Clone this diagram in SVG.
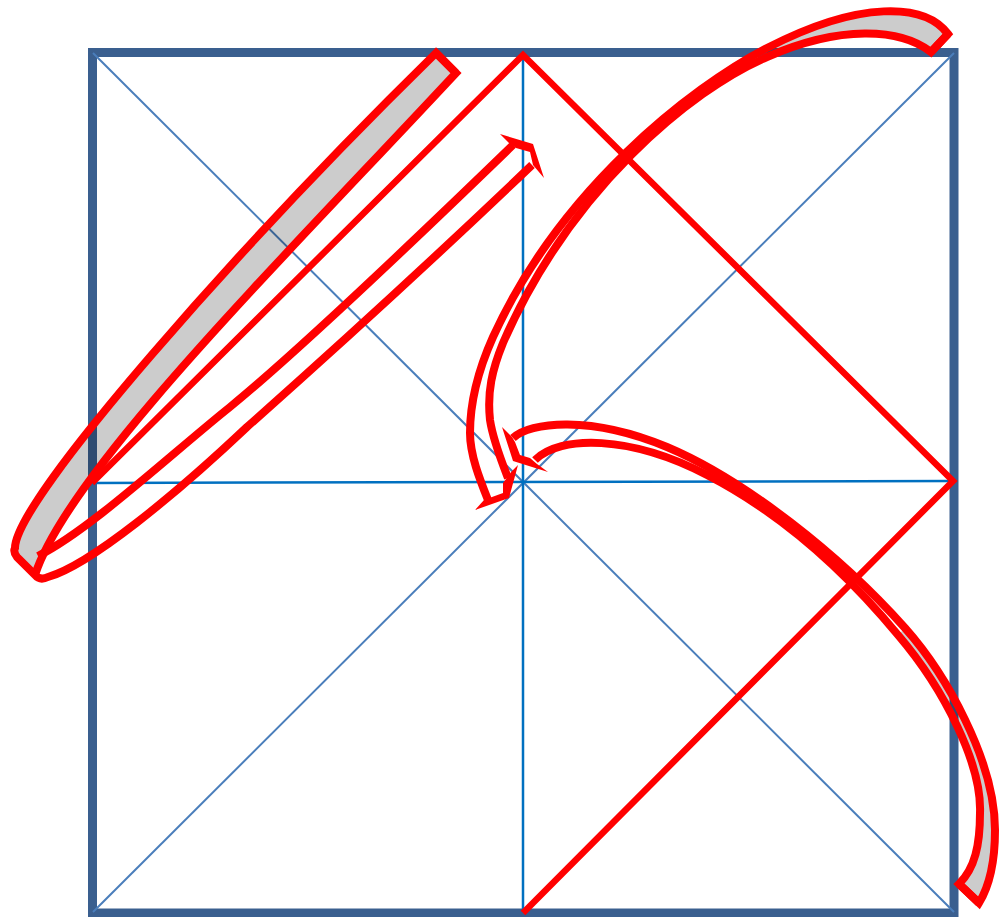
<svg xmlns="http://www.w3.org/2000/svg" width="999" height="917" viewBox="0 0 999 917">
<style>
.frame{fill:none;stroke:#3a5f8f;stroke-width:9}
.diag{stroke:#4a7ebb;stroke-width:2;fill:none}
.axis{stroke:#0070c0;stroke-width:2.500;fill:none}
.red{stroke:#ff0000;stroke-width:6.500;fill:none}
.grey{fill:#cccccc;mix-blend-mode:multiply}
.edge{fill:none;stroke:#ff0000;stroke-width:8;stroke-linejoin:miter;stroke-miterlimit:10}
.head{fill:#ff0000}
</style>
<rect width="999" height="917" fill="#ffffff"/>
<g id="frame"><rect class="frame" x="92.500" y="52.500" width="861.500" height="860.500"/></g>
<g id="guides">
<path class="diag" d="M93,53 L954,912"/>
<path class="diag" d="M954,53 L93,912"/>
<path class="axis" d="M92,483 L953,481"/>
<path class="axis" d="M523,55 L523,913"/>
</g>
<g id="diamond"><path class="red" d="M92,483 L523,55 L953,481 L523,913"/></g>
<g id="connectors">
<g id="arrow-left">
<path class="grey" d="M456,73 L436,53 C240,245 15,500 15,548 Q13,552 17,557 L35,575 C68,472 280,262 456,73 Z"/>
<path class="edge" d="M456,73 L436,53 C240,245 15,500 15,548 Q13,552 17,557 L35,575 Q40,581 48,577 C90,565 175,495 247,427 C300,380 420,272 532,165"/>
<path class="edge" d="M436,53 L456,73 C280,262 68,472 35,575"/>
<path class="edge" d="M38,556 C90,530 170,455 230,407 C290,358 420,235 513,145"/>
<polygon class="head" points="500,134 533,144 544,178 533,165 530,152 516,148 509,143"/>
</g>
<g id="arrow-top">
<path class="grey" d="M948,34 C925,3 860,0 767,48 L767,57 C840,25 900,28 931,52 Z"/>
<path class="edge" d="M931,52 L948,34 C925,3 860,0 767,48 C690,88 560,190 493,337 C480,366 470,400 470,433 C470,455 480,480 488,500"/>
<path class="edge" d="M948,34 L931,52 C900,28 840,25 767,57 C690,90 570,190 503,343 C492,370 487,392 490,420 C493,440 501,460 508,478"/>
<polygon class="head" points="475,510 509,498 518,465 512,471 503,483 503,493 492,497 484,500"/>
</g>
<g id="arrow-bottom">
<path class="grey" d="M959,884 L979,903 C990,885 995,860 995,830 C995,760 945,673 905,628 L898,635 C945,690 982,765 980,813 C980,845 975,868 959,884 Z"/>
<path class="edge" d="M959,884 L979,903 C990,885 995,860 995,830 C995,760 945,673 905,628 C840,555 745,480 667,447 C590,415 530,422 513,438"/>
<path class="edge" d="M979,903 L959,884 C975,868 980,845 980,813 C982,765 945,690 898,635 C840,565 775,510 707,475 C630,435 560,435 535,460"/>
<polygon class="head" points="502,427 513,461 548,472 537,464 530,458 520,455 515,442 512,437"/>
</g>
</g>
</svg>
